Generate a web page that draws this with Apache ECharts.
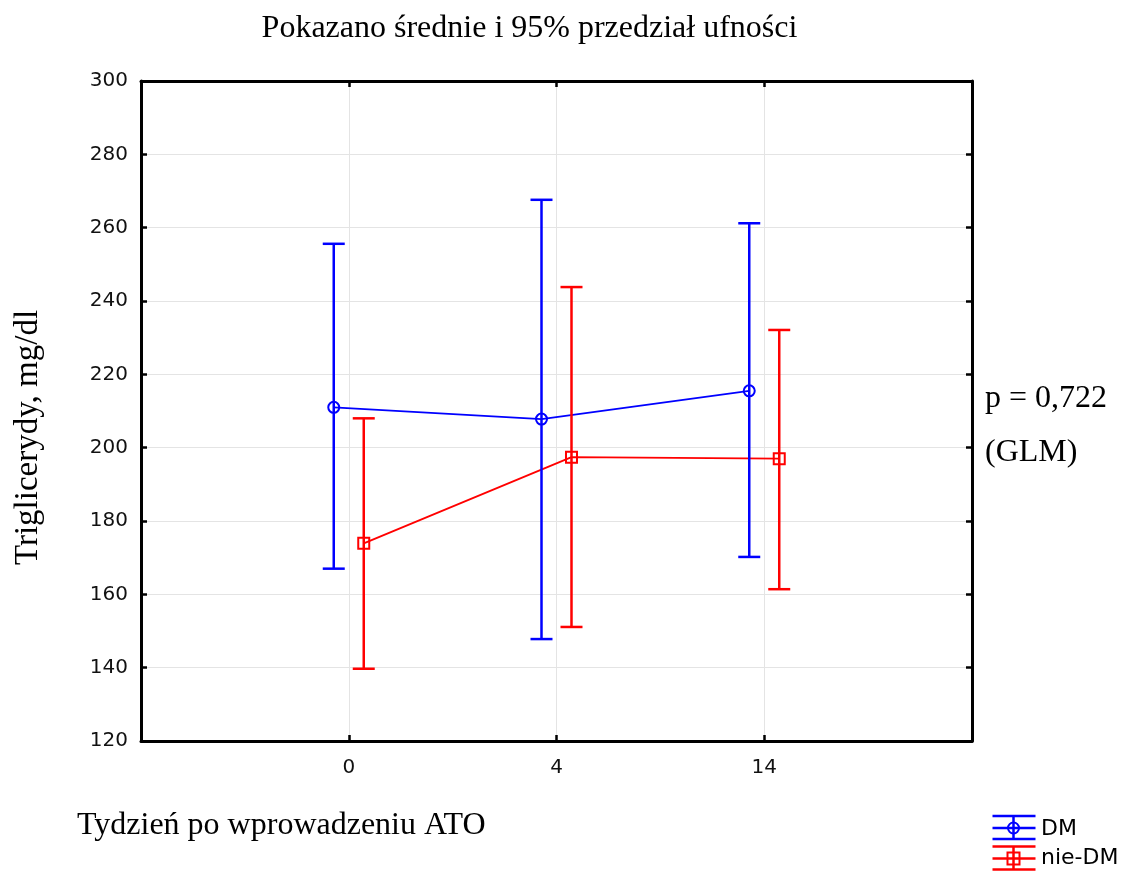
<!DOCTYPE html>
<html>
<head>
<meta charset="utf-8">
<script src="https://cdn.jsdelivr.net/npm/echarts@6/dist/echarts.min.js"></script>
<style>
html,body{margin:0;padding:0;background:#fff;}
#chart{width:1130px;height:874px;}
</style>
</head>
<body>
<div id="chart"></div>
<script>
// ---- data ----
const weeks = ['0', '4', '14'];
const dmMean = [211.0, 207.8, 215.5];
const dmLow = [167.0, 147.8, 170.2];
const dmHigh = [255.6, 267.6, 261.2];
const nieMean = [173.9, 197.4, 197.0];
const nieLow = [139.7, 151.1, 161.4];
const nieHigh = [208.0, 243.8, 232.1];
const yTicks = [120, 140, 160, 180, 200, 220, 240, 260, 280, 300];
const groups = ['DM', 'nie-DM'];

const BLUE = '#0000ff';
const RED = '#ff0000';
const SHIFT = 0.0722; // horizontal dodge between groups (axis units)

const chart = echarts.init(document.getElementById('chart'), null, {renderer: 'canvas'});

function meanData(arr) { return arr.map((v, i) => [i, v]); }
function ciData(lo, hi) { return lo.map((v, i) => [i, v, hi[i]]); }

function errRender(color) {
  return function (params, api) {
    const x = api.value(0);
    const p1 = api.coord([x, api.value(1)]);
    const p2 = api.coord([x, api.value(2)]);
    const hw = 11;
    const st = {stroke: color, lineWidth: 2.5};
    return {
      type: 'group',
      children: [
        {type: 'line', shape: {x1: p1[0], y1: p1[1], x2: p2[0], y2: p2[1]}, style: st},
        {type: 'line', shape: {x1: p1[0] - hw, y1: p1[1], x2: p1[0] + hw, y2: p1[1]}, style: st},
        {type: 'line', shape: {x1: p2[0] - hw, y1: p2[1], x2: p2[0] + hw, y2: p2[1]}, style: st}
      ]
    };
  };
}

const serif = "'Liberation Serif', 'Times New Roman', serif";
const sans = "'DejaVu Sans', Verdana, sans-serif";

function legendIcon(cx, cy, color, kind) {
  const st = {stroke: color, lineWidth: 2.5};
  const x1 = cx - 21, x2 = cx + 22;
  const kids = [
    {type: 'line', shape: {x1: x1, y1: cy - 12, x2: x2, y2: cy - 12}, style: st},
    {type: 'line', shape: {x1: x1, y1: cy, x2: x2, y2: cy}, style: st},
    {type: 'line', shape: {x1: x1, y1: cy + 11, x2: x2, y2: cy + 11}, style: st},
    {type: 'line', shape: {x1: cx, y1: cy - 12, x2: cx, y2: cy + 11}, style: st}
  ];
  if (kind === 'circle') {
    kids.push({type: 'circle', shape: {cx: cx, cy: cy, r: 5.5}, style: {stroke: color, lineWidth: 2, fill: null}});
  } else {
    kids.push({type: 'rect', shape: {x: cx - 6, y: cy - 6, width: 12, height: 12}, style: {stroke: color, lineWidth: 2, fill: null}});
  }
  return {type: 'group', children: kids};
}

const option = {
  backgroundColor: '#fff',
  animation: false,
  grid: {left: 141, right: 158, top: 81, bottom: 133, containLabel: false},
  xAxis: [
    {
      type: 'value', min: -1, max: 3, interval: 1, position: 'bottom',
      axisLine: {show: true, onZero: false, lineStyle: {color: '#000', width: 3}},
      axisTick: {show: true, inside: true, length: 6, lineStyle: {color: '#000', width: 2.5}},
      axisLabel: {
        formatter: v => (weeks[v] !== undefined ? weeks[v] : ''),
        fontFamily: sans, fontSize: 20, color: '#111', margin: 17
      },
      splitLine: {show: true, lineStyle: {color: '#e4e4e4', width: 1}}
    },
    {
      type: 'value', min: -1, max: 3, interval: 1, position: 'top',
      axisLine: {show: true, onZero: false, lineStyle: {color: '#000', width: 3}},
      axisTick: {show: true, inside: true, length: 6, lineStyle: {color: '#000', width: 2.5}},
      axisLabel: {show: false},
      splitLine: {show: false}
    },
    {type: 'value', min: -1 + SHIFT, max: 3 + SHIFT, show: false},
    {type: 'value', min: -1 - SHIFT, max: 3 - SHIFT, show: false}
  ],
  yAxis: [
    {
      type: 'value', min: yTicks[0], max: yTicks[yTicks.length - 1], interval: 20, position: 'left',
      axisLine: {show: true, onZero: false, lineStyle: {color: '#000', width: 3}},
      axisTick: {show: true, inside: true, length: 6, lineStyle: {color: '#000', width: 2.5}},
      axisLabel: {fontFamily: sans, fontSize: 20, color: '#111', margin: 13},
      splitLine: {show: true, lineStyle: {color: '#e4e4e4', width: 1}}
    },
    {
      type: 'value', min: yTicks[0], max: yTicks[yTicks.length - 1], interval: 20, position: 'right',
      axisLine: {show: true, onZero: false, lineStyle: {color: '#000', width: 3}},
      axisTick: {show: true, inside: true, length: 6, lineStyle: {color: '#000', width: 2.5}},
      axisLabel: {show: false},
      splitLine: {show: false}
    }
  ],
  series: [
    {
      name: groups[0], type: 'line', xAxisIndex: 2, yAxisIndex: 0,
      data: meanData(dmMean),
      symbol: 'circle', symbolSize: 11,
      lineStyle: {color: BLUE, width: 1.8},
      itemStyle: {color: 'rgba(0,0,0,0)', borderColor: BLUE, borderWidth: 2},
      z: 3
    },
    {
      name: groups[0], type: 'custom', xAxisIndex: 2, yAxisIndex: 0,
      data: ciData(dmLow, dmHigh),
      renderItem: errRender(BLUE),
      z: 4
    },
    {
      name: groups[1], type: 'line', xAxisIndex: 3, yAxisIndex: 0,
      data: meanData(nieMean),
      symbol: 'rect', symbolSize: 11,
      lineStyle: {color: RED, width: 1.8},
      itemStyle: {color: 'rgba(0,0,0,0)', borderColor: RED, borderWidth: 2},
      z: 3
    },
    {
      name: groups[1], type: 'custom', xAxisIndex: 3, yAxisIndex: 0,
      data: ciData(nieLow, nieHigh),
      renderItem: errRender(RED),
      z: 4
    }
  ],
  graphic: [
    {type: 'text', x: 529.5, y: 29, style: {text: 'Pokazano średnie i 95% przedział ufności', font: '32px ' + serif, fill: '#000', align: 'center', verticalAlign: 'middle'}},
    {type: 'text', x: 28, y: 437.5, rotation: Math.PI / 2, style: {text: 'Triglicerydy, mg/dl', font: '33px ' + serif, fill: '#000', align: 'center', verticalAlign: 'middle'}},
    {type: 'text', x: 77, y: 826, style: {text: 'Tydzień po wprowadzeniu ATO', font: '32px ' + serif, fill: '#000', align: 'left', verticalAlign: 'middle'}},
    {type: 'text', x: 985, y: 399, style: {text: 'p = 0,722', font: '32px ' + serif, fill: '#000', align: 'left', verticalAlign: 'middle'}},
    {type: 'text', x: 985, y: 453, style: {text: '(GLM)', font: '32px ' + serif, fill: '#000', align: 'left', verticalAlign: 'middle'}},
    legendIcon(1013.5, 828, BLUE, 'circle'),
    legendIcon(1013.5, 858.5, RED, 'rect'),
    {type: 'text', x: 1041, y: 829, style: {text: groups[0], font: '22px ' + sans, fill: '#000', align: 'left', verticalAlign: 'middle'}},
    {type: 'text', x: 1041, y: 858, style: {text: groups[1], font: '22px ' + sans, fill: '#000', align: 'left', verticalAlign: 'middle'}}
  ]
};

chart.setOption(option);
</script>
</body>
</html>
